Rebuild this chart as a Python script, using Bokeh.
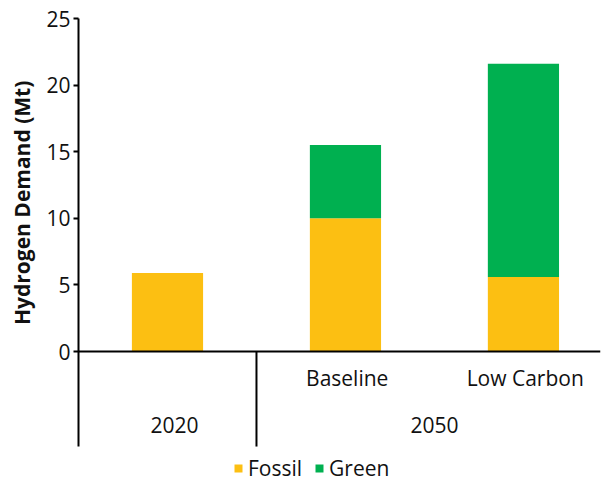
import math
from bokeh.plotting import figure
from bokeh.layouts import row
from bokeh.models import (Range1d, FixedTicker, Legend, LegendItem,
                          ColumnDataSource)
from bokeh.core.properties import value
from bokeh.embed import file_html
from bokeh.resources import INLINE

# ---- data ----
categories = ["2020", "Baseline", "Low Carbon"]
sub_labels = ["", "Baseline", "Low Carbon"]
cat_group = ["2020", "2050", "2050"]
groups = ["2020", "2050"]
series = ["Fossil", "Green"]
fossil = [5.9, 10.0, 5.6]
green = [0.0, 5.5, 16.0]
y_ticks = [0, 5, 10, 15, 20, 25]
y_title = "Hydrogen Demand (Mt)"
colors = ["#FCBF12", "#00B050"]

FONT = "Open Sans"
TXT = "#111111"

x_end = 2.933
y_bottom = -7.13
TITLE_W = 40

p = figure(width=601 - TITLE_W, height=482, output_backend="svg",
           toolbar_location=None,
           x_range=Range1d(0, x_end), y_range=Range1d(-9.83, 25.0),
           x_axis_location=None, min_border_left=78 - TITLE_W,
           min_border_right=1, min_border_top=18, min_border_bottom=0)
p.outline_line_color = None
p.grid.visible = False
p.background_fill_color = "white"

xs = [i + 0.5 for i in range(len(categories))]
src = ColumnDataSource(dict(x=xs, Fossil=fossil, Green=green))
rs = p.vbar_stack(series, x="x", width=0.4, color=colors, source=src,
                  line_color=None)

# y axis
ax = p.yaxis[0]
ax.ticker = FixedTicker(ticks=y_ticks)
ax.bounds = (y_bottom, 25)
ax.axis_line_width = 2
ax.axis_line_color = "black"
ax.major_tick_line_width = 2
ax.major_tick_line_color = "black"
ax.major_tick_out = 5
ax.major_tick_in = 0
ax.minor_tick_line_color = None
ax.major_label_standoff = 3
ax.major_label_text_font = FONT
ax.major_label_text_font_size = "21px"
ax.major_label_text_color = TXT

# horizontal baseline and group divider
p.segment(x0=[0], y0=[0], x1=[x_end], y1=[0], line_width=2, color="black")
div_x = [i for i in range(1, len(categories)) if cat_group[i] != cat_group[i - 1]]
p.segment(x0=div_x, y0=[0] * len(div_x), x1=div_x, y1=[y_bottom] * len(div_x),
          line_width=2, color="black")

# sub-category labels
p.text(x=[x + 0.01 for x in xs], y=[-1.99] * len(xs), text=sub_labels,
       text_align="center", text_baseline="middle",
       text_font=value(FONT), text_font_size="21px", text_color=TXT)

# group labels
gx = []
for g in groups:
    idx = [i for i, c in enumerate(cat_group) if c == g]
    gx.append((min(idx) + max(idx) + 1) / 2)
gx[0] += 0.04
p.text(x=gx, y=[-5.52] * len(gx), text=groups,
       text_align="center", text_baseline="middle",
       text_font=value(FONT), text_font_size="21px", text_color=TXT)

legend = Legend(items=[LegendItem(label=s, renderers=[r]) for s, r in zip(series, rs)],
                orientation="horizontal", location=(155, 0),
                glyph_width=10, glyph_height=10, label_standoff=5, spacing=12,
                padding=0, margin=0, border_line_color=None,
                background_fill_alpha=0, label_text_font=FONT,
                label_text_font_size="21px", label_text_color=TXT,
                label_height=20)
p.add_layout(legend)

# narrow panel holding the rotated axis title (pixel coordinates)
t = figure(width=TITLE_W, height=482, output_backend="svg", toolbar_location=None,
           x_range=Range1d(0, TITLE_W), y_range=Range1d(0, 482),
           x_axis_location=None, y_axis_location=None,
           min_border_left=0, min_border_right=0, min_border_top=0,
           min_border_bottom=0)
t.outline_line_color = None
t.grid.visible = False
t.text(x=[21.5], y=[290.5], text=[y_title], angle=math.pi / 2,
       text_align="center", text_baseline="middle",
       text_font=value(FONT), text_font_style="bold", text_font_size="21px",
       text_color=TXT)

layout = row(t, p, spacing=0)
open("out.html", "w").write(file_html(layout, INLINE))
